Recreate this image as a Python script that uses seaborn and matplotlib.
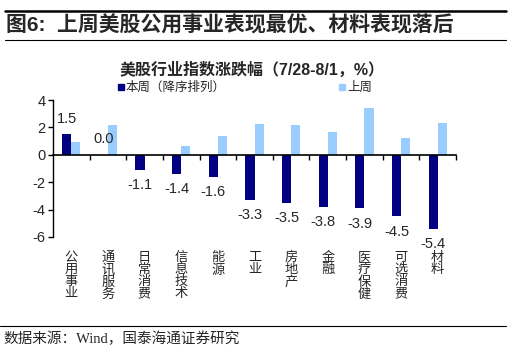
import numpy as np
import pandas as pd
import matplotlib
matplotlib.use('Agg')
import matplotlib.pyplot as plt
import matplotlib.lines as mlines
import seaborn as sns

sns.set_style('white')
plt.rcParams['font.family'] = ['Liberation Sans', 'Noto Sans CJK SC']
plt.rcParams['axes.unicode_minus'] = False

# data
industries = ['公用事业', '通讯服务', '日常消费', '信息技术', '能源', '工业',
              '房地产', '金融', '医疗保健', '可选消费', '材料']
this_week = [1.5, 0.0, -1.1, -1.4, -1.6, -3.3, -3.5, -3.8, -3.9, -4.5, -5.4]
last_week = [0.9, 2.2, 0.0, 0.65, 1.4, 2.25, 2.2, 1.65, 3.4, 1.2, 2.3]
series = ['本周（降序排列）', '上周']
colors = ['#000080', '#99CCFF']

df = pd.DataFrame({
    '行业': industries * 2,
    '涨跌幅': this_week + last_week,
    '周': [series[0]] * len(industries) + [series[1]] * len(industries),
})

fig = plt.figure(figsize=(5.12, 3.52), dpi=100)
ax = fig.add_axes([53 / 512, 1 - 237 / 352, (456 - 53) / 512, 137 / 352])

sns.barplot(data=df, x='行业', y='涨跌幅', hue='周', palette=colors,
            width=0.5, gap=0, saturation=1, linewidth=0, ax=ax, legend=False)

ax.set_xlim(-0.5, len(industries) - 0.5)
ax.set_ylim(-6, 4)
ax.set_yticks([-6, -4, -2, 0, 2, 4])
ax.set_xlabel('')
ax.set_ylabel('')

# value labels on this week's bars
ax.bar_label(ax.containers[0], fmt='%.1f', padding=6, fontsize=10.5)

# axes styling: zero line with boundary ticks, left spine
for s in ['top', 'right']:
    ax.spines[s].set_visible(False)
ax.spines['bottom'].set_position(('data', 0))
ax.spines['bottom'].set_linewidth(1.2)
ax.spines['left'].set_linewidth(1.0)
ax.spines['left'].set_color('black')
ax.spines['bottom'].set_color('black')

ax.set_xticks(range(len(industries)))
ax.set_xticklabels(['\n'.join(list(s)) for s in industries],
                   fontsize=9.5, linespacing=1.0, va='top', rotation=0)
ax.set_xticks(np.arange(0.5, len(industries), 1), minor=True)
ax.tick_params(axis='x', which='major', length=0, pad=70)
ax.tick_params(axis='x', which='minor', length=3.5, direction='out',
               width=1, color='black', bottom=True)
ax.tick_params(axis='y', length=3.5, direction='out', width=1, color='black',
               left=True, labelsize=10.5, pad=2)

# legend
handles = [mlines.Line2D([], [], marker='s', linestyle='none', markersize=5,
                         color=c) for c in colors]
fig.legend(handles, series, loc='center left', ncol=2,
           bbox_to_anchor=(117 / 512, 1 - 88 / 352), frameon=False,
           fontsize=9, handlelength=0.6, handletextpad=0.1,
           columnspacing=9.0, borderpad=0, borderaxespad=0)

# chart titles and framing lines
fig.text(6 / 512, 1 - 25 / 352, '图6:  上周美股公用事业表现最优、材料表现落后',
         fontsize=15, fontweight='bold', va='center', ha='left')
fig.text(252 / 512, 1 - 70 / 352, '美股行业指数涨跌幅（7/28-8/1，%）',
         fontsize=11.5, fontweight='bold', va='center', ha='center')
fig.text(3 / 512, 1 - 339 / 352, '数据来源：Wind，国泰海通证券研究',
         fontsize=10.5, va='center', ha='left',
         family=['Liberation Serif', 'Noto Sans CJK SC'])

fig.add_artist(mlines.Line2D([5 / 512, 506 / 512], [1 - 11 / 352] * 2,
                             color='black', linewidth=1.8))
fig.add_artist(mlines.Line2D([5 / 512, 506 / 512], [1 - 39.5 / 352] * 2,
                             color='black', linewidth=0.8))
fig.add_artist(mlines.Line2D([0, 506 / 512], [1 - 326 / 352] * 2,
                             color='black', linewidth=0.8))

fig.savefig('out.png', dpi=100)
